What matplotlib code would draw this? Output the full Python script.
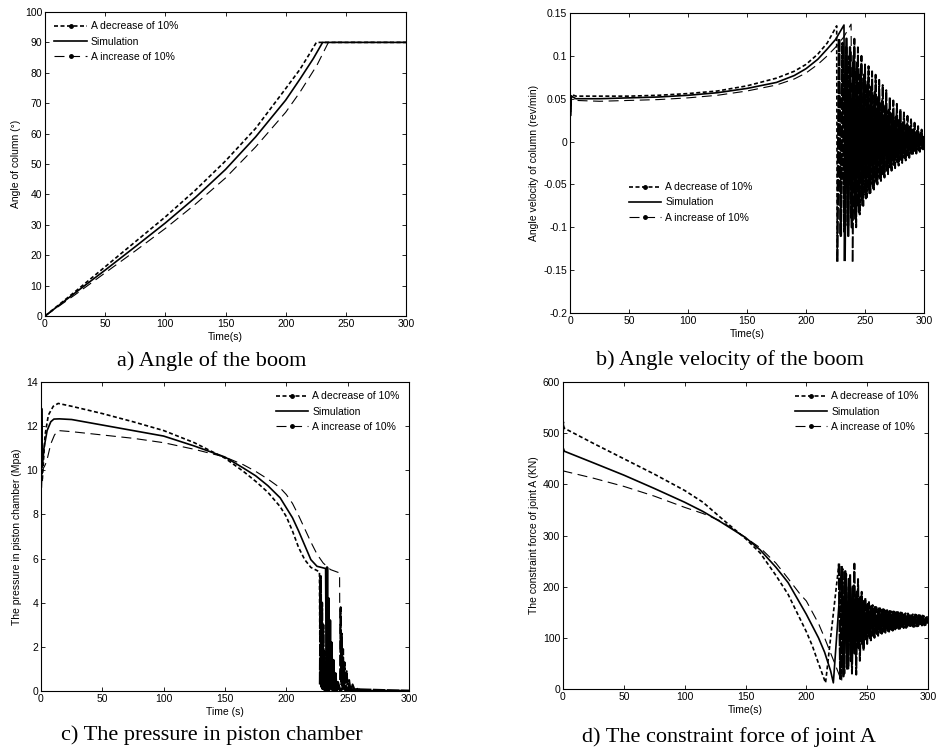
import numpy as np
import matplotlib
matplotlib.use('Agg')
import matplotlib.pyplot as plt
from matplotlib.lines import Line2D

plt.rcParams['font.family'] = ['Liberation Sans', 'DejaVu Sans']
plt.rcParams['axes.unicode_minus'] = False

labels = ['A decrease of 10%', 'Simulation', 'A increase of 10%']
time_ticks = [0, 50, 100, 150, 200, 250, 300]

# ---- a) angle of the boom (deg)
t_ang_dec = [0, 25, 50, 75, 100, 125, 150, 175, 200, 212, 221, 225.5, 300]
ang_dec = [0, 8.0, 16.2, 24.4, 32.6, 41.4, 51, 61.7, 74.8, 81.2, 87.0, 90, 90]
t_ang_sim = [0, 25, 50, 75, 100, 125, 150, 175, 200, 212, 223, 230.7, 300]
ang_sim = [0, 7.6, 15.1, 22.8, 30.6, 39.0, 48.2, 58.9, 71, 78, 84.7, 90, 90]
t_ang_inc = [0, 25, 50, 75, 100, 125, 150, 175, 200, 212, 226, 235.5, 300]
ang_inc = [0, 7.0, 14.2, 21.4, 28.8, 36.8, 45.4, 55.6, 67, 73.7, 82.5, 90, 90]

# ---- b) angle velocity (rev/min), smooth part + oscillation part
t_vel_dec = [0, 0.4, 1.2, 5, 25, 50, 75, 100, 125, 150, 175, 190, 200, 210, 218, 226]
vel_dec = [0.066, 0.035, 0.055, 0.053, 0.053, 0.053, 0.054, 0.056, 0.059, 0.065,
           0.074, 0.082, 0.090, 0.102, 0.115, 0.135]
t_vel_sim = [0, 0.4, 1.2, 5, 25, 50, 75, 100, 125, 150, 175, 190, 200, 210, 218, 225, 232.2]
vel_sim = [0.072, 0.03, 0.053, 0.050, 0.050, 0.051, 0.052, 0.054, 0.057, 0.062,
           0.069, 0.077, 0.085, 0.096, 0.108, 0.119, 0.136]
t_vel_inc = [0, 0.4, 1.2, 5, 25, 50, 75, 100, 125, 150, 175, 190, 200, 210, 218, 225, 232, 238.2]
vel_inc = [0.06, 0.04, 0.049, 0.048, 0.047, 0.048, 0.049, 0.051, 0.054, 0.059,
           0.066, 0.073, 0.080, 0.090, 0.100, 0.110, 0.122, 0.137]

t_vel_dec_osc = [226.5, 228, 229.5, 231, 232.5, 234, 235.5, 237, 238.5, 240,
                 241.5, 243, 244.5, 246, 247.5, 249, 250.5, 252, 253.5, 255,
                 256.5, 258, 259.5, 261, 262.5, 264, 265.5, 267, 268.5, 270,
                 271.5, 273, 274.5, 276, 277.5, 279, 280.5, 282, 283.5, 285,
                 286.5, 288, 289.5, 291, 292.5, 294, 295.5, 297, 298.5, 300]
vel_dec_osc = [-0.14, 0.12, -0.11, 0.115, -0.105, 0.11, -0.098, 0.10, -0.09, 0.092,
               -0.083, 0.085, -0.076, 0.078, -0.068, 0.072, -0.062, 0.066, -0.056, 0.06,
               -0.05, 0.054, -0.046, 0.05, -0.042, 0.045, -0.038, 0.04, -0.034, 0.036,
               -0.03, 0.032, -0.027, 0.028, -0.024, 0.025, -0.021, 0.022, -0.019, 0.019,
               -0.016, 0.017, -0.014, 0.014, -0.012, 0.012, -0.01, 0.01, -0.008, 0.006]
t_vel_sim_osc = [232.8, 234.3, 235.8, 237.3, 238.8, 240.3, 241.8, 243.3, 244.8, 246.3,
                 247.8, 249.3, 250.8, 252.3, 253.8, 255.3, 256.8, 258.3, 259.8, 261.3,
                 262.8, 264.3, 265.8, 267.3, 268.8, 270.3, 271.8, 273.3, 274.8, 276.3,
                 277.8, 279.3, 280.8, 282.3, 283.8, 285.3, 286.8, 288.3, 289.8, 291.3,
                 292.8, 294.3, 295.8, 297.3, 298.8, 300]
vel_sim_osc = [-0.138, 0.12, -0.11, 0.11, -0.1, 0.1, -0.09, 0.092, -0.082, 0.085,
               -0.074, 0.078, -0.066, 0.07, -0.06, 0.064, -0.054, 0.058, -0.048, 0.052,
               -0.043, 0.047, -0.038, 0.042, -0.034, 0.037, -0.03, 0.033, -0.026, 0.029,
               -0.023, 0.025, -0.02, 0.022, -0.017, 0.019, -0.015, 0.016, -0.013, 0.014,
               -0.011, 0.012, -0.009, 0.01, -0.008, 0.005]
t_vel_inc_osc = [239.5, 241, 242.5, 244, 245.5, 247, 248.5, 250, 251.5, 253,
                 254.5, 256, 257.5, 259, 260.5, 262, 263.5, 265, 266.5, 268,
                 269.5, 271, 272.5, 274, 275.5, 277, 278.5, 280, 281.5, 283,
                 284.5, 286, 287.5, 289, 290.5, 292, 293.5, 295, 296.5, 298, 299.5]
vel_inc_osc = [-0.14, 0.12, -0.1, 0.11, -0.085, 0.1, -0.075, 0.09, -0.065, 0.088,
               -0.06, 0.082, -0.056, 0.078, -0.05, 0.072, -0.046, 0.066, -0.042, 0.06,
               -0.038, 0.052, -0.034, 0.048, -0.031, 0.044, -0.028, 0.038, -0.025, 0.034,
               -0.022, 0.03, -0.019, 0.026, -0.016, 0.022, -0.014, 0.018, -0.012, 0.014, -0.01]

# ---- c) pressure in piston chamber (MPa), smooth part + drop/spike part
t_pr_dec = [0, 0.4, 1, 3.3, 6, 10, 14, 25, 50, 75, 100, 125, 150, 165, 175, 185,
            195, 200, 205, 210, 215, 220, 227]
pr_dec = [8.0, 11.5, 9.5, 11.6, 12.5, 12.9, 13.03, 12.9, 12.57, 12.2, 11.8, 11.25, 10.55,
          9.95, 9.5, 9.0, 8.35, 7.9, 7.25, 6.5, 5.95, 5.6, 5.4]
t_pr_dec_osc = [227.5, 228, 228.5, 229, 229.5, 230, 230.5, 231, 231.5, 232.2, 233, 234, 235, 238, 300]
pr_dec_osc = [0.3, 5.2, 0.2, 4.0, 0.1, 3.0, 0.1, 1.8, 0, 1.0, 0, 0.4, 0, 0.1, 0]
t_pr_sim = [0, 0.5, 1.2, 2.4, 5, 8, 10.5, 15, 25, 50, 75, 100, 125, 150, 165, 175, 185,
            195, 200, 205, 210, 215, 220, 225, 232]
pr_sim = [9.0, 12.8, 10.2, 11.0, 11.8, 12.2, 12.32, 12.33, 12.3, 12.05, 11.8, 11.55, 11.1,
          10.6, 10.1, 9.75, 9.3, 8.75, 8.3, 7.85, 7.25, 6.6, 5.95, 5.65, 5.55]
t_pr_sim_osc = [232.6, 233.2, 233.8, 234.4, 235.0, 235.6, 236.2, 236.8, 237.6, 238.4, 239.2,
                240, 241, 242, 244, 246, 250, 300]
pr_sim_osc = [0.2, 5.6, 0.3, 4.2, 0.2, 3.2, 0.1, 2.2, 0.05, 1.4, 0,
              0.8, 0, 0.4, 0, 0.15, 0, 0]
t_pr_inc = [0, 1, 3, 4.6, 8, 11, 14, 25, 50, 75, 100, 125, 150, 165, 175, 185, 195, 200,
            205, 210, 215, 220, 225, 230, 236, 243.4]
pr_inc = [8.5, 10.0, 10.2, 10.4, 11.2, 11.6, 11.8, 11.75, 11.6, 11.45, 11.25, 10.95, 10.6,
          10.25, 9.95, 9.6, 9.2, 8.9, 8.5, 7.95, 7.35, 6.75, 6.2, 5.8, 5.5, 5.35]
t_pr_inc_osc = [243.8, 244.3, 244.8, 245.3, 245.8, 246.3, 246.8, 247.5, 248.3, 249.2, 250.2,
                251.2, 252.5, 254, 256, 258, 262, 300]
pr_inc_osc = [0.5, 3.8, 0.3, 2.6, 0.2, 1.9, 0.1, 1.3, 0, 0.9, 0,
              0.5, 0, 0.3, 0, 0.1, 0, 0]

# ---- d) constraint force of joint A (kN), smooth part + oscillation part
t_f_dec = [0, 0.3, 0.8, 25, 50, 75, 100, 115, 132, 150, 162, 175, 185, 200, 205, 210, 215.8]
f_dec = [440, 522, 510, 480, 450, 420, 388, 365, 330, 294, 266, 222, 185, 112, 84, 50, 12]
t_f_sim = [0, 0.3, 0.8, 25, 50, 75, 100, 115, 130, 150, 162, 175, 185, 200, 210, 215, 220, 222.2]
f_sim = [440, 470, 465, 442, 418, 392, 365, 347, 326, 296, 272, 238, 208, 146, 100, 72, 35, 12]
t_f_inc = [0, 0.5, 25, 50, 75, 100, 115, 130, 150, 162, 175, 185, 195, 200, 210, 215, 220, 225, 229]
f_inc = [428, 426, 412, 396, 377, 355, 343, 328, 296, 276, 246, 216, 185, 172, 128, 100, 70, 40, 15]

t_f_dec_osc = [226.8, 228, 229.5, 231, 232.5, 234, 235.5, 237, 238.5, 240,
               241.5, 243, 244.5, 246, 247.5, 249, 250.5, 252, 253.5, 255,
               256.5, 258, 259.5, 261, 262.5, 264, 265.5, 267, 268.5, 270,
               271.5, 273, 274.5, 276, 277.5, 279, 280.5, 282, 283.5, 285,
               286.5, 288, 289.5, 291, 292.5, 294, 295.5, 297, 298.5, 300]
f_dec_osc = [245, 20, 235, 30, 225, 45, 210, 60, 200, 70,
             190, 80, 180, 88, 172, 95, 166, 100, 162, 104,
             160, 108, 157, 110, 155, 112, 153, 114, 152, 116,
             151, 117, 150, 118, 149, 119, 148, 120, 147, 121,
             146, 122, 145, 123, 144, 124, 143, 125, 142, 128]
t_f_sim_osc = [229, 230.5, 232, 233.5, 235, 236.5, 238, 239.5, 241, 242.5,
               244, 245.5, 247, 248.5, 250, 251.5, 253, 254.5, 256, 257.5,
               259, 260.5, 262, 263.5, 265, 266.5, 268, 269.5, 271, 272.5,
               274, 275.5, 277, 278.5, 280, 281.5, 283, 284.5, 286, 287.5,
               289, 290.5, 292, 293.5, 295, 296.5, 298, 299.5]
f_sim_osc = [238, 25, 230, 40, 215, 55, 200, 70, 185, 82,
             175, 92, 168, 98, 162, 104, 158, 108, 155, 112,
             152, 114, 150, 116, 148, 118, 147, 120, 146, 121,
             145, 122, 144, 123, 143, 124, 142, 125, 141, 126,
             140, 127, 139, 128, 138, 129, 137, 131]
t_f_inc_osc = [233, 234.5, 236, 237.5, 239.5, 241, 242.5, 244, 245.5, 247,
               248.5, 250, 251.5, 253, 254.5, 256, 257.5, 259, 260.5, 262,
               263.5, 265, 266.5, 268, 269.5, 271, 272.5, 274, 275.5, 277,
               278.5, 280, 281.5, 283, 284.5, 286, 287.5, 289, 290.5, 292,
               293.5, 295, 296.5, 298, 299.5]
f_inc_osc = [200, 40, 225, 30, 245, 28, 215, 55, 190, 75,
             178, 88, 170, 95, 164, 100, 160, 104, 158, 108,
             156, 110, 154, 112, 152, 114, 151, 116, 150, 118,
             149, 119, 148, 120, 147, 121, 146, 122, 145, 123,
             144, 124, 143, 125, 142]

# line styles: decrease = short dashes, simulation = solid, increase = long thin dashes
DEC = dict(color='k', lw=1.2, dashes=(2.4, 1.5))
SIM = dict(color='k', lw=1.2, ls='-')
INC = dict(color='k', lw=0.8, dashes=(9, 5))
# in the dense oscillating parts the strokes merge into an almost solid band
OSC = {'dec': dict(color='k', lw=1.8, dashes=(5, 0.6)),
       'sim': dict(color='k', lw=1.8, ls='-'),
       'inc': dict(color='k', lw=1.4, dashes=(6, 1))}

fig = plt.figure(figsize=(9.4, 7.49), dpi=100)


def add_axes(left, top, right, bottom):
    # positions given in pixels of the 940x749 figure
    return fig.add_axes([left / 940, 1 - bottom / 749, (right - left) / 940, (bottom - top) / 749])


def style_axes(ax, ylim, yticks, yticklabels, ylabel, xlabel):
    ax.set_xlim(0, 300)
    ax.set_ylim(*ylim)
    ax.set_xticks(time_ticks)
    ax.set_yticks(yticks, yticklabels)
    ax.tick_params(direction='in', top=True, right=True, labelsize=7.5,
                   length=3, width=0.6, pad=2)
    ax.set_xlabel(xlabel, fontsize=7.5, labelpad=2)
    ax.set_ylabel(ylabel, fontsize=7.5, labelpad=3)
    for s in ax.spines.values():
        s.set_linewidth(0.8)


def plot_series(ax, t, y, style, t_osc=None, y_osc=None, osc_style=None):
    if t_osc is None:
        ax.plot(t, y, **style)
        return
    # the run into the first oscillation point keeps the normal style
    ax.plot(t + t_osc[:1], y + y_osc[:1], **style)
    ax.plot(t_osc, y_osc, **osc_style)


def legend_handles():
    return [Line2D([], [], marker='.', markersize=5, **DEC),
            Line2D([], [], **SIM),
            Line2D([], [], marker='.', markersize=5, **INC)]


leg_kw = dict(frameon=False, fontsize=7.5, handlelength=3.1, labelspacing=0.5,
              handletextpad=0.4)

# a)
ax = add_axes(45, 12, 406, 316)
plot_series(ax, t_ang_inc, ang_inc, INC)
plot_series(ax, t_ang_sim, ang_sim, SIM)
plot_series(ax, t_ang_dec, ang_dec, DEC)
style_axes(ax, (0, 100), list(range(0, 101, 10)), [str(v) for v in range(0, 101, 10)],
           'Angle of column (°)', 'Time(s)')
ax.legend(legend_handles(), labels, loc='upper left', borderaxespad=0.5, **leg_kw)

# b)
ax = add_axes(570, 13, 924, 313)
plot_series(ax, t_vel_inc, vel_inc, INC, t_vel_inc_osc, vel_inc_osc, OSC['inc'])
plot_series(ax, t_vel_sim, vel_sim, SIM, t_vel_sim_osc, vel_sim_osc, OSC['sim'])
plot_series(ax, t_vel_dec, vel_dec, DEC, t_vel_dec_osc, vel_dec_osc, OSC['dec'])
vel_ticks = [-0.2, -0.15, -0.1, -0.05, 0, 0.05, 0.1, 0.15]
vel_labels = ['-0.2', '-0.15', '-0.1', '-0.05', '0', '0.05', '0.1', '0.15']
style_axes(ax, (-0.2, 0.15), vel_ticks, vel_labels,
           'Angle velocity of column (rev/min)', 'Time(s)')
ax.legend(legend_handles(), labels, loc='upper left', bbox_to_anchor=(0.155, 0.45),
          borderaxespad=0, **leg_kw)

# c)
ax = add_axes(41, 382, 409, 691)
plot_series(ax, t_pr_inc, pr_inc, INC, t_pr_inc_osc, pr_inc_osc, OSC['inc'])
plot_series(ax, t_pr_sim, pr_sim, SIM, t_pr_sim_osc, pr_sim_osc, OSC['sim'])
plot_series(ax, t_pr_dec, pr_dec, DEC, t_pr_dec_osc, pr_dec_osc, OSC['dec'])
style_axes(ax, (0, 14), list(range(0, 15, 2)), [str(v) for v in range(0, 15, 2)],
           'The pressure in piston chamber (Mpa)', 'Time (s)')
ax.legend(legend_handles(), labels, loc='upper right', borderaxespad=0.5, **leg_kw)

# d)
ax = add_axes(563, 382, 928, 689)
plot_series(ax, t_f_inc, f_inc, INC, t_f_inc_osc, f_inc_osc, OSC['inc'])
plot_series(ax, t_f_sim, f_sim, SIM, t_f_sim_osc, f_sim_osc, OSC['sim'])
plot_series(ax, t_f_dec, f_dec, DEC, t_f_dec_osc, f_dec_osc, OSC['dec'])
style_axes(ax, (0, 600), list(range(0, 601, 100)), [str(v) for v in range(0, 601, 100)],
           'The constraint force of joint A (KN)', 'Time(s)')
ax.legend(legend_handles(), labels, loc='upper right', borderaxespad=0.5, **leg_kw)

# captions under each panel
cap_kw = dict(ha='center', va='center', family=['Liberation Serif', 'DejaVu Serif'], fontsize=16)
fig.text(212 / 940, 1 - 361 / 749, 'a) Angle of the boom', **cap_kw)
fig.text(730 / 940, 1 - 360 / 749, 'b) Angle velocity of the boom', **cap_kw)
fig.text(212 / 940, 1 - 735 / 749, 'c) The pressure in piston chamber', **cap_kw)
fig.text(729 / 940, 1 - 737 / 749, 'd) The constraint force of joint A', **cap_kw)

fig.savefig('out.png', dpi=100)
